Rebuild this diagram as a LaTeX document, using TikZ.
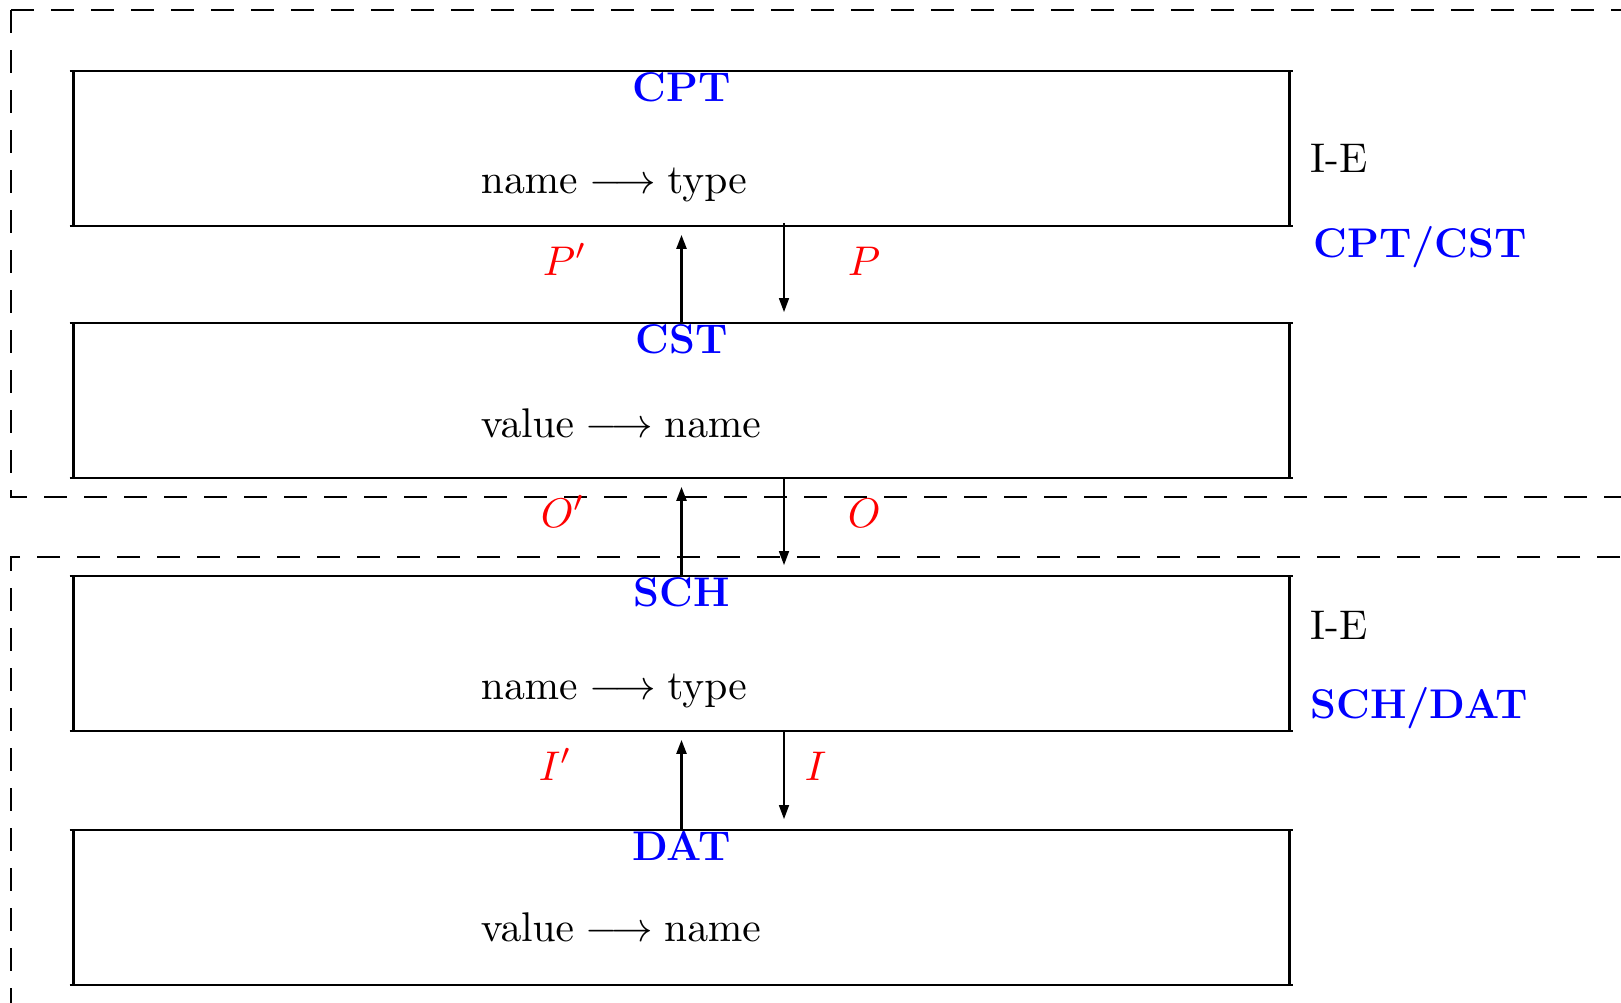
\documentclass[tikz,border=0pt]{standalone}
\usetikzlibrary{arrows.meta}
\definecolor{tblue}{RGB}{0,0,255}
\definecolor{tred}{RGB}{255,0,0}
\tikzset{
  layer/.style={rectangle, draw=none, minimum width=607.5pt, minimum height=77pt, inner sep=0pt},
  frame/.style={line width=1.15pt},
  title/.style={anchor=north, inner sep=0.5pt, text=tblue, font=\huge\bfseries},
  big/.style={font=\normalsize, scale=2.074, transform shape},
  body/.style={anchor=base west, inner sep=0pt, big},
  lbl/.style={anchor=base west, inner sep=0pt, text=tred, big},
  side/.style={anchor=base west, inner sep=0pt, big},
  sidetitle/.style={anchor=base west, inner sep=0pt, text=tblue, font=\huge\bfseries},
  uplink/.style={line width=1.2pt, -{Triangle[length=7pt,width=5pt]}, shorten >=4.5pt},
  downlink/.style={line width=0.8pt, -{Triangle[length=7pt,width=5pt]}, shorten >=5.5pt},
  group/.style={line width=1.1pt, dash pattern=on 11.5pt off 8.5pt}
}
\begin{document}
\begin{tikzpicture}[x=0.5pt, y=-0.5pt]
\useasboundingbox (0,0) rectangle (1621,1002);
\clip (0,0) rectangle (1621,1002);

% the two dashed groups
\draw[group] (11,10) -- (1700,10) (11,10) -- (11,497) -- (1700,497);
\draw[group] (1700,557) -- (11,557) -- (11,1100);

% the four layers
\node[layer] (b1) at (681.5,148.5) {};
\node[layer] (b2) at (681.5,400.5) {};
\node[layer] (b3) at (681.5,653.5) {};
\node[layer] (b4) at (681.5,907.5) {};
\foreach \b in {b1,b2,b3,b4}{
  \draw[frame] ([xshift=-2pt]\b.north west) -- ([xshift=2pt]\b.north east);
  \draw[frame] ([xshift=-2pt]\b.south west) -- ([xshift=2pt]\b.south east);
  \draw[frame] (\b.north west) -- (\b.south west);
  \draw[frame] (\b.north east) -- (\b.south east);
}

% titles
\node[title] (t1) at (b1.north) {CPT};
\node[title] (t2) at (b2.north) {CST};
\node[title] (t3) at (b3.north) {SCH};
\node[title] (t4) at (b4.north) {DAT};

% mappings
\node[body] (m1) at (480,193) {$\mathrm{name}\longrightarrow\mathrm{type}$};
\node[body] (m2) at (480,437) {$\mathrm{value}\longrightarrow\mathrm{name}$};
\node[body] (m3) at (480,699) {$\mathrm{name}\longrightarrow\mathrm{type}$};
\node[body] (m4) at (480,941) {$\mathrm{value}\longrightarrow\mathrm{name}$};

% side labels
\node[side] (ie1) at (1310,172) {I-E};
\node[sidetitle] (s1) at (1313,257) {CPT/CST};
\node[side] (ie2) at (1310,639) {I-E};
\node[sidetitle] (s2) at (1310,718) {SCH/DAT};

% connectors between layers
\draw[uplink] (b2.north) -- (b1.south);
\draw[downlink] ([xshift=51.25pt,yshift=1.5pt]b1.south) -- ([xshift=51.25pt]b2.north);
\draw[uplink] (b3.north) -- (b2.south);
\draw[downlink] ([xshift=51.25pt]b2.south) -- ([xshift=51.25pt]b3.north);
\draw[uplink] (b4.north) -- (b3.south);
\draw[downlink] ([xshift=51.25pt]b3.south) -- ([xshift=51.25pt]b4.north);

% connector labels
\node[lbl] (pp) at (542,275) {$P'$};
\node[lbl] (p)  at (847,275) {$P$};
\node[lbl] (oo) at (540,527) {$O'$};
\node[lbl] (o)  at (847,527) {$O$};
\node[lbl] (ii) at (538,780) {$I'$};
\node[lbl] (i)  at (804,780) {$I$};
\end{tikzpicture}
\end{document}
